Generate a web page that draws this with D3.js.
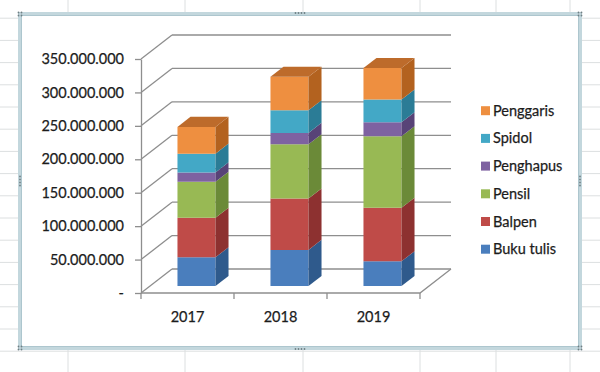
<!DOCTYPE html>
<html>
<head>
<meta charset="utf-8">
<script src="https://cdn.jsdelivr.net/npm/d3@7"></script>
<style>
  html, body { margin: 0; padding: 0; background: #fff; }
  svg { display: block; }
  text { font-family: Lato, "Open Sans", sans-serif; fill: #1c1c1c; stroke: #1c1c1c; stroke-width: 0.25px; }
</style>
</head>
<body>
<svg id="chart" width="600" height="372"></svg>
<script>
// ---- data ----
const categories = ["2017", "2018", "2019"];
const seriesNames = ["Buku tulis", "Balpen", "Pensil", "Penghapus", "Spidol", "Penggaris"];
const bukuTulis = [43000000, 54000000, 37000000];
const balpen    = [59000000, 77000000, 80000000];
const pensil    = [54000000, 81000000, 107000000];
const penghapus = [14000000, 17000000, 21000000];
const spidol    = [28000000, 34000000, 34000000];
const penggaris = [40000000, 50000000, 47000000];
const yTicks = [0, 50000000, 100000000, 150000000, 200000000, 250000000, 300000000, 350000000];
const yTickLabels = ["-", "50.000.000", "100.000.000", "150.000.000", "200.000.000", "250.000.000", "300.000.000", "350.000.000"];

const frontColors = ["#4a7ebd", "#bf4b48", "#98b954", "#7e62a1", "#43a8c6", "#ee8f40"];
const sideColors  = ["#2f5a8c", "#8d3130", "#6b8a38", "#584377", "#2b7c96", "#b3621f"];
const topColors   = ["#3d6ba3", "#a63e3b", "#82a246", "#6a528c", "#3592ae", "#bd6b2b"];

// ---- setup ----
const svg = d3.select("#chart");
const W = 600, H = 372;

// spreadsheet background grid
const colLines = [68, 185, 303, 420, 496, 570];
const rowLines = d3.range(-4, 380, 22.2);
const bg = svg.append("g");
bg.selectAll("line.c").data(colLines).join("line")
  .attr("x1", d => d).attr("x2", d => d).attr("y1", 0).attr("y2", H)
  .attr("stroke", "#dcdfe0").attr("stroke-width", 1);
bg.selectAll("line.r").data(rowLines).join("line")
  .attr("x1", 0).attr("x2", W).attr("y1", d => d).attr("y2", d => d)
  .attr("stroke", "#dcdfe0").attr("stroke-width", 1);

// chart frame
svg.append("rect").attr("x", 20).attr("y", 14).attr("width", 560).attr("height", 334)
  .attr("fill", "#fff").attr("stroke", "#c3d7dd").attr("stroke-width", 4);
svg.append("rect").attr("x", 21.5).attr("y", 15.5).attr("width", 557).attr("height", 331)
  .attr("fill", "none").attr("stroke", "#a8c2ca").attr("stroke-width", 0.8);
// handles
const handles = [[20,14],[300,13],[580,14],[20,181],[580,181],[20,348],[300,349],[580,348]];
handles.forEach(([hx, hy]) => {
  const pts = (hx === 300) ? [[-4.5,0],[-1.5,0],[1.5,0],[4.5,0]]
            : (hy === 181) ? [[0,-4.5],[0,-1.5],[0,1.5],[0,4.5]]
            : [[-1.5,-1.5],[1.5,-1.5],[-1.5,1.5],[1.5,1.5]];
  svg.append("g").selectAll("circle").data(pts).join("circle")
    .attr("cx", d => hx + d[0]).attr("cy", d => hy + d[1]).attr("r", 0.9).attr("fill", "#6f7f84");
});

// ---- scales ----
const y = d3.scaleLinear().domain([0, 350000000]).range([293, 59]);
const x = d3.scaleBand().domain(categories).range([141, 420])
  .paddingInner(0.591).paddingOuter(0.2955);
const DX = 31, DY = 24;
const P = (px, v, d) => [px + d * DX, y(v) - d * DY];
const A = 0.29, B = 0.71;
const poly = pts => pts.map(p => p.join(",")).join(" ");
const gridColor = "#8e8e8e";

const walls = svg.append("g").attr("stroke", gridColor).attr("stroke-width", 1.3).attr("fill", "none");
// back wall gridlines
walls.selectAll("line.g").data(yTicks).join("line")
  .attr("x1", d => P(141, d, 1)[0]).attr("y1", d => P(141, d, 1)[1])
  .attr("x2", d => P(420, d, 1)[0]).attr("y2", d => P(420, d, 1)[1]);
// side wall diagonals
walls.selectAll("line.s").data(yTicks).join("line")
  .attr("x1", d => P(141, d, 0)[0]).attr("y1", d => P(141, d, 0)[1])
  .attr("x2", d => P(141, d, 1)[0]).attr("y2", d => P(141, d, 1)[1]);
// floor
walls.append("polyline")
  .attr("points", poly([P(141, 0, 0), P(420, 0, 0), P(420, 0, 1)]));

// ---- bars ----
const rows = categories.map((c, i) => ({
  cat: c,
  "Buku tulis": bukuTulis[i], "Balpen": balpen[i], "Pensil": pensil[i],
  "Penghapus": penghapus[i], "Spidol": spidol[i], "Penggaris": penggaris[i]
}));
const stacked = d3.stack().keys(seriesNames)(rows);
const bw = x.bandwidth();
const barsG = svg.append("g");
stacked.forEach((s, si) => {
  const g = barsG.append("g");
  s.forEach(d => {
    const x0 = x(d.data.cat), x1 = x0 + bw;
    g.append("polygon")
      .attr("points", poly([P(x0, d[0], A), P(x1, d[0], A), P(x1, d[1], A), P(x0, d[1], A)]))
      .attr("fill", frontColors[si]);
    g.append("polygon")
      .attr("points", poly([P(x1, d[0], A), P(x1, d[0], B), P(x1, d[1], B), P(x1, d[1], A)]))
      .attr("fill", sideColors[si]);
    if (si === stacked.length - 1) {
      g.append("polygon")
        .attr("points", poly([P(x0, d[1], A), P(x1, d[1], A), P(x1, d[1], B), P(x0, d[1], B)]))
        .attr("fill", topColors[si]);
    }
  });
});

// ---- axes ----
const yAxis = svg.append("g").attr("transform", "translate(141,0)")
  .call(d3.axisLeft(y).tickValues(yTicks).tickFormat((d, i) => yTickLabels[i])
    .tickSize(6).tickPadding(11).tickSizeOuter(0));
yAxis.select(".domain").attr("stroke", gridColor).attr("stroke-width", 1.3);
yAxis.selectAll(".tick line").attr("stroke", gridColor).attr("stroke-width", 1.3);
yAxis.selectAll("text").attr("font-size", 14.5).attr("fill", "#1c1c1c")
  .style("font-family", "Lato, 'Open Sans', sans-serif");

const xAxis = svg.append("g").attr("transform", "translate(0,293)")
  .call(d3.axisBottom(x).tickSize(0).tickPadding(19));
xAxis.select(".domain").remove();
xAxis.selectAll("text").attr("font-size", 14.5).attr("fill", "#1c1c1c")
  .style("font-family", "Lato, 'Open Sans', sans-serif");
const bounds = categories.map(c => x(c) - x.step() * x.paddingInner() / 2)
  .concat([x(categories[categories.length - 1]) + bw + x.step() * x.paddingInner() / 2]);
svg.append("g").selectAll("line").data(bounds).join("line")
  .attr("x1", d => d).attr("x2", d => d).attr("y1", 293).attr("y2", 299)
  .attr("stroke", gridColor).attr("stroke-width", 1.3);

// ---- legend ----
const legendItems = seriesNames.map((n, i) => ({ name: n, color: frontColors[i] })).reverse();
const lg = svg.append("g").selectAll("g").data(legendItems).join("g")
  .attr("transform", (d, i) => `translate(481,${110.7 + i * 27.7})`);
lg.append("rect").attr("x", 0).attr("y", -4.5).attr("width", 9).attr("height", 9)
  .attr("fill", d => d.color);
lg.append("text").attr("x", 12).attr("y", 0).attr("dy", "0.35em")
  .attr("font-size", 14.5).text(d => d.name);
</script>
</body>
</html>
